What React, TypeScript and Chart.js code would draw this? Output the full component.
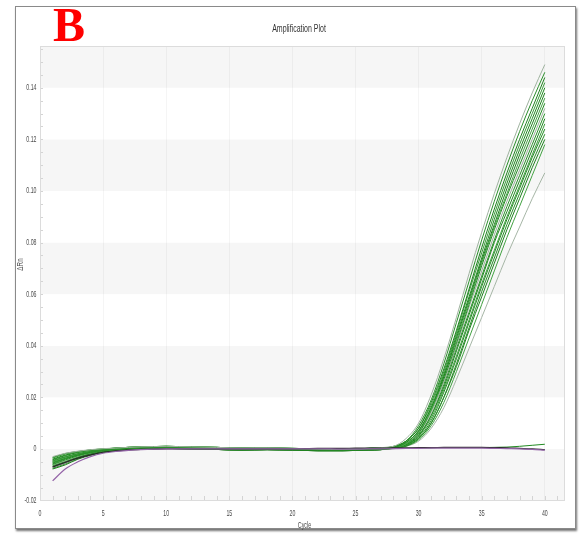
import React, { useEffect, useRef } from 'react';
import { Chart, registerables } from 'chart.js';

Chart.register(...registerables);

// ---------- data ----------
const cycles = [1, 2, 3, 4, 5, 6, 7, 8, 9, 10, 11, 12, 13, 14, 15, 16, 17, 18, 19, 20,
  21, 22, 23, 24, 25, 26, 27, 28, 29, 30, 31, 32, 33, 34, 35, 36, 37, 38, 39, 40];

const xTickValues = [0, 5, 10, 15, 20, 25, 30, 35, 40];
const xTickLabels = ['0', '5', '10', '15', '20', '25', '30', '35', '40'];
const yTickValues = [-0.02, 0, 0.02, 0.04, 0.06, 0.08, 0.1, 0.12, 0.14];
const yTickLabels = ['-0.02', '0', '0.02', '0.04', '0.06', '0.08', '0.10', '0.12', '0.14'];

const chartTitle = 'Amplification Plot';
const xAxisTitle = 'Cycle';
const yAxisTitle = 'ΔRn';
const panelLetter = 'B';

// cycles 1-5 for each amplification curve
const earlyPhase = [
  [-0.0030, -0.0017, -0.0009, -0.0003, 0.0001],
  [-0.0045, -0.0030, -0.0018, -0.0010, -0.0004],
  [-0.0068, -0.0052, -0.0034, -0.0020, -0.0011],
  [-0.0036, -0.0020, -0.0011, -0.0004, 0.0000],
  [-0.0055, -0.0038, -0.0024, -0.0013, -0.0006],
  [-0.0078, -0.0062, -0.0040, -0.0025, -0.0014],
  [-0.0050, -0.0034, -0.0021, -0.0012, -0.0005],
  [-0.0040, -0.0024, -0.0013, -0.0006, -0.0001],
  [-0.0072, -0.0056, -0.0037, -0.0022, -0.0012],
  [-0.0060, -0.0043, -0.0027, -0.0015, -0.0007],
  [-0.0033, -0.0018, -0.0010, -0.0004, 0.0000],
  [-0.0065, -0.0049, -0.0032, -0.0019, -0.0010],
  [-0.0048, -0.0032, -0.0020, -0.0011, -0.0005],
  [-0.0042, -0.0026, -0.0014, -0.0006, -0.0002],
  [-0.0075, -0.0058, -0.0038, -0.0023, -0.0013],
  [-0.0058, -0.0040, -0.0025, -0.0014, -0.0007],
  [-0.0062, -0.0046, -0.0030, -0.0018, -0.0009],
  [-0.0052, -0.0036, -0.0022, -0.0012, -0.0005],
];

// cycles 6-27 baseline variants
const plateauA = [0.0003, 0.0006, 0.0008, 0.0009, 0.0010, 0.0009, 0.0008, 0.0007, 0.0006, 0.0004, 0.0003,
  0.0004, 0.0004, 0.0003, 0.0002, 0.0001, 0.0000, -0.0001, -0.0001, 0.0000, 0.0002, 0.0005];
const plateauB = [-0.0002, 0.0002, 0.0004, 0.0005, 0.0006, 0.0005, 0.0004, 0.0003, 0.0002, 0.0000, -0.0001,
  0.0000, 0.0001, 0.0000, -0.0001, -0.0002, -0.0003, -0.0004, -0.0004, -0.0003, -0.0002, 0.0000];
const plateauC = [-0.0007, -0.0003, 0.0000, 0.0001, 0.0002, 0.0001, 0.0000, -0.0001, -0.0002, -0.0004, -0.0005,
  -0.0004, -0.0003, -0.0004, -0.0005, -0.0006, -0.0007, -0.0007, -0.0007, -0.0006, -0.0005, -0.0003];
const plateauChoice = ['A', 'B', 'C', 'A', 'B', 'C', 'B', 'A', 'C', 'B', 'A', 'C', 'B', 'A', 'C', 'B', 'C', 'B'];

// cycles 28-40 for each curve
const lateRise = [
  [0.0010, 0.0040, 0.0100, 0.0210, 0.0350, 0.0510, 0.0680, 0.0840, 0.0990, 0.1130, 0.1260, 0.1380, 0.1490],
  [0.0010, 0.0030, 0.0090, 0.0190, 0.0330, 0.0490, 0.0650, 0.0810, 0.0960, 0.1100, 0.1230, 0.1350, 0.1460],
  [0.0008, 0.0030, 0.0080, 0.0180, 0.0310, 0.0460, 0.0620, 0.0780, 0.0930, 0.1070, 0.1200, 0.1320, 0.1440],
  [0.0008, 0.0030, 0.0080, 0.0170, 0.0300, 0.0450, 0.0610, 0.0760, 0.0910, 0.1050, 0.1180, 0.1300, 0.1420],
  [0.0006, 0.0025, 0.0070, 0.0160, 0.0290, 0.0440, 0.0590, 0.0740, 0.0890, 0.1030, 0.1160, 0.1280, 0.1400],
  [0.0006, 0.0025, 0.0070, 0.0160, 0.0280, 0.0430, 0.0580, 0.0730, 0.0870, 0.1010, 0.1140, 0.1260, 0.1380],
  [0.0005, 0.0020, 0.0065, 0.0150, 0.0280, 0.0420, 0.0570, 0.0720, 0.0860, 0.0990, 0.1120, 0.1240, 0.1360],
  [0.0005, 0.0020, 0.0060, 0.0150, 0.0270, 0.0410, 0.0560, 0.0710, 0.0850, 0.0980, 0.1100, 0.1220, 0.1340],
  [0.0005, 0.0020, 0.0060, 0.0140, 0.0260, 0.0400, 0.0550, 0.0690, 0.0830, 0.0960, 0.1080, 0.1200, 0.1320],
  [0.0004, 0.0018, 0.0055, 0.0130, 0.0250, 0.0390, 0.0530, 0.0670, 0.0810, 0.0940, 0.1060, 0.1180, 0.1300],
  [0.0004, 0.0017, 0.0050, 0.0130, 0.0240, 0.0380, 0.0520, 0.0660, 0.0800, 0.0920, 0.1040, 0.1160, 0.1280],
  [0.0003, 0.0015, 0.0050, 0.0120, 0.0230, 0.0360, 0.0500, 0.0640, 0.0770, 0.0900, 0.1020, 0.1140, 0.1260],
  [0.0003, 0.0015, 0.0045, 0.0110, 0.0220, 0.0350, 0.0490, 0.0630, 0.0760, 0.0890, 0.1010, 0.1130, 0.1240],
  [0.0002, 0.0012, 0.0040, 0.0100, 0.0200, 0.0330, 0.0470, 0.0610, 0.0740, 0.0870, 0.0990, 0.1110, 0.1220],
  [0.0002, 0.0012, 0.0040, 0.0100, 0.0200, 0.0320, 0.0460, 0.0590, 0.0720, 0.0850, 0.0970, 0.1090, 0.1200],
  [0.0002, 0.0010, 0.0035, 0.0090, 0.0180, 0.0300, 0.0430, 0.0560, 0.0690, 0.0820, 0.0940, 0.1060, 0.1180],
  [0.0000, 0.0010, 0.0030, 0.0080, 0.0160, 0.0270, 0.0390, 0.0510, 0.0630, 0.0750, 0.0860, 0.0970, 0.1070],
  [0.0002, 0.0003, 0.0004, 0.0004, 0.0005, 0.0005, 0.0005, 0.0005, 0.0006, 0.0007, 0.0010, 0.0014, 0.0018],
];

const curveColors = ['#9fb39f', '#2a8f2a', '#1f821f', '#3a9d3a', '#228b22', '#1f821f', '#46a446', '#228b22',
  '#98b098', '#2a912a', '#1f861f', '#3c9e3c', '#228b22', '#2a8f2a', '#1f821f', '#42a242', '#a6b6a6', '#228b22'];

const negControlPurple = [-0.0124, -0.0078, -0.0050, -0.0030, -0.0017, -0.0010, -0.0006, -0.0003, -0.0001, 0.0000,
  0.0000, 0.0000, 0.0000, 0.0000, 0.0000, 0.0000, 0.0000, 0.0000, 0.0000, 0.0000,
  0.0000, 0.0000, 0.0000, -0.0001, -0.0001, 0.0000, 0.0000, 0.0001, 0.0002, 0.0002,
  0.0003, 0.0003, 0.0003, 0.0003, 0.0003, 0.0002, 0.0001, 0.0000, -0.0002, -0.0005];
const negControlBlack = [-0.0070, -0.0052, -0.0036, -0.0023, -0.0013, -0.0008, -0.0004, -0.0002, -0.0001, 0.0000,
  0.0000, 0.0000, 0.0000, 0.0000, 0.0000, 0.0000, 0.0000, 0.0000, 0.0000, 0.0000,
  0.0001, 0.0002, 0.0002, 0.0002, 0.0003, 0.0003, 0.0003, 0.0004, 0.0004, 0.0005,
  0.0005, 0.0006, 0.0006, 0.0006, 0.0006, 0.0005, 0.0004, 0.0002, 0.0000, -0.0003];

const plateaus: Record<string, number[]> = { A: plateauA, B: plateauB, C: plateauC };

function buildDatasets() {
  const sets: any[] = [];
  const toPoints = (vals: number[]) => vals.map((v, k) => ({ x: cycles[k], y: v }));
  sets.push({ data: toPoints(negControlPurple), borderColor: '#9464a8', borderWidth: 1.2 });
  sets.push({ data: toPoints(negControlBlack), borderColor: '#2a2a2a', borderWidth: 1.2 });
  earlyPhase.forEach((early, i) => {
    const vals = [...early, ...plateaus[plateauChoice[i]], ...lateRise[i]];
    sets.push({ data: toPoints(vals), borderColor: curveColors[i], borderWidth: 1 });
  });
  return sets.map((s) => ({
    ...s,
    pointRadius: 0,
    fill: false,
    cubicInterpolationMode: 'monotone',
  }));
}

const FONT = '"Liberation Sans", Arial, sans-serif';

function drawSquashed(ctx: CanvasRenderingContext2D, text: string, x: number, y: number, sx: number, align: CanvasTextAlign) {
  ctx.save();
  ctx.translate(x, y);
  ctx.scale(sx, 1);
  ctx.textAlign = align;
  ctx.fillText(text, 0, 0);
  ctx.restore();
}

const decorPlugin = {
  id: 'decor',
  beforeDraw(chart: any) {
    const { ctx, chartArea: a, scales } = chart;
    const y = scales.y;
    ctx.save();
    const edges = [y.min, ...yTickValues.slice(1), y.max];
    for (let i = 0; i < edges.length - 1; i++) {
      const top = y.getPixelForValue(edges[i + 1]);
      const bot = y.getPixelForValue(edges[i]);
      ctx.fillStyle = i % 2 === 0 ? '#f6f6f6' : '#ffffff';
      ctx.fillRect(a.left, top, a.right - a.left, bot - top);
    }
    ctx.restore();
  },
  beforeDatasetsDraw(chart: any) {
    const { ctx, chartArea: a, scales } = chart;
    const x = scales.x;
    const y = scales.y;
    ctx.save();
    ctx.strokeStyle = '#d4d4d4';
    ctx.lineWidth = 1;
    ctx.beginPath();
    for (let c = 1; c <= 41; c++) {
      const px = Math.round(x.getPixelForValue(c)) + 0.5;
      ctx.moveTo(px, a.bottom);
      ctx.lineTo(px, a.bottom - 5);
    }
    for (let v = -0.015; v < y.max; v += 0.005) {
      const py = Math.round(y.getPixelForValue(v)) + 0.5;
      ctx.moveTo(a.left, py);
      ctx.lineTo(a.left + 3, py);
    }
    ctx.stroke();
    ctx.strokeStyle = '#dcdcdc';
    ctx.strokeRect(a.left + 0.5, a.top + 0.5, a.right - a.left - 1, a.bottom - a.top - 1);
    ctx.restore();
  },
  afterDraw(chart: any) {
    const { ctx, chartArea: a, scales } = chart;
    const x = scales.x;
    const y = scales.y;
    ctx.save();
    ctx.fillStyle = '#4a4a4a';
    ctx.textBaseline = 'middle';
    ctx.font = `9px ${FONT}`;
    yTickValues.forEach((v, i) => {
      drawSquashed(ctx, yTickLabels[i], a.left - 3.5, y.getPixelForValue(v), 0.58, 'right');
    });
    xTickValues.forEach((v, i) => {
      drawSquashed(ctx, xTickLabels[i], x.getPixelForValue(v), a.bottom + 13, 0.58, 'center');
    });
    drawSquashed(ctx, xAxisTitle, (a.left + a.right) / 2 + 2, a.bottom + 25, 0.6, 'center');
    ctx.save();
    ctx.translate(21, (a.top + a.bottom) / 2 - 9);
    ctx.rotate(-Math.PI / 2);
    ctx.scale(0.7, 1);
    ctx.textAlign = 'center';
    ctx.fillText(yAxisTitle, 0, 0);
    ctx.restore();
    ctx.fillStyle = '#333333';
    ctx.font = `10px ${FONT}`;
    ctx.textBaseline = 'alphabetic';
    drawSquashed(ctx, chartTitle, 299, 32, 0.7, 'center');
    ctx.restore();
  },
};

export default function App() {
  const ref = useRef<HTMLCanvasElement | null>(null);
  useEffect(() => {
    if (!ref.current) return;
    const chart = new Chart(ref.current, {
      type: 'line',
      data: { datasets: buildDatasets() },
      options: {
        animation: false,
        responsive: false,
        maintainAspectRatio: false,
        devicePixelRatio: 1,
        layout: { padding: { left: 40, right: 16, top: 46, bottom: 36 } },
        plugins: { legend: { display: false }, tooltip: { enabled: false }, title: { display: false } },
        scales: {
          x: {
            type: 'linear',
            min: 0,
            max: 41.6,
            ticks: { display: false, stepSize: 5, includeBounds: false },
            grid: { display: true, color: 'rgba(0,0,0,0.04)', drawTicks: false },
            border: { display: false },
            afterFit: (s: any) => { s.height = 0; },
          },
          y: {
            type: 'linear',
            min: -0.0202,
            max: 0.1562,
            ticks: { display: false, stepSize: 0.02, includeBounds: false },
            grid: { display: false, drawTicks: false },
            border: { display: false },
            afterFit: (s: any) => { s.width = 0; },
          },
        },
      } as any,
      plugins: [decorPlugin],
    });
    return () => chart.destroy();
  }, []);

  return (
    <div style={{ position: 'fixed', left: 0, top: 0, width: 581, height: 537, background: '#ffffff', overflow: 'hidden' }}>
      <div style={{
        position: 'absolute', left: 15, top: 6, width: 559, height: 521,
        border: '1px solid #8a8a8a', boxShadow: '1px 2px 2px rgba(0,0,0,0.55)', background: '#ffffff',
      }} />
      <canvas ref={ref} width={581} height={537} style={{ position: 'absolute', left: 0, top: 0, display: 'block' }} />
      <div style={{
        position: 'absolute', left: 53, top: 1, fontFamily: '"Liberation Serif", "Times New Roman", serif',
        fontWeight: 'bold', fontSize: 48, lineHeight: '48px', color: '#ff0000',
      }}>{panelLetter}</div>
    </div>
  );
}
